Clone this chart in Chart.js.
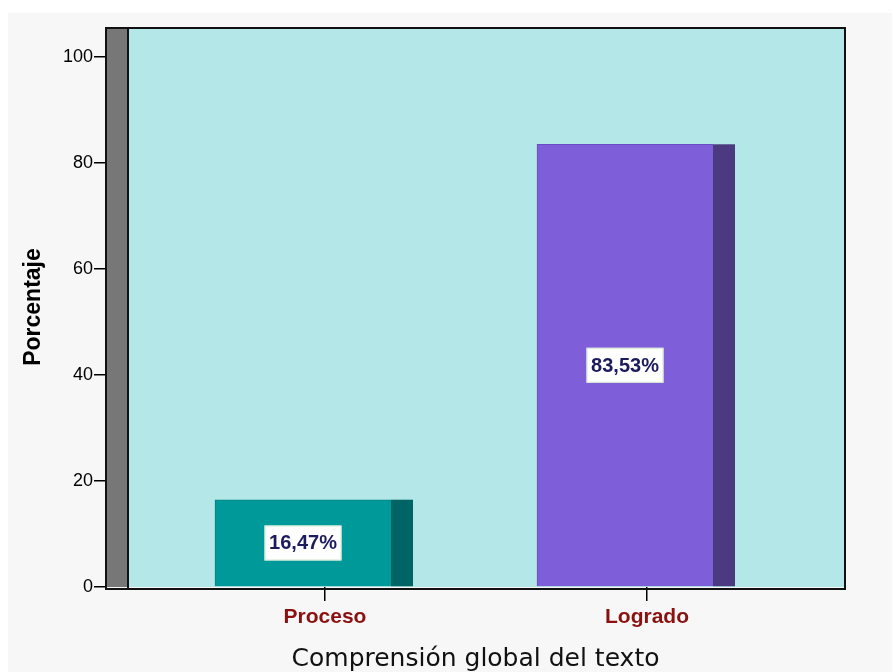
<!DOCTYPE html>
<html>
<head>
<meta charset="utf-8">
<script src="https://cdn.jsdelivr.net/npm/chart.js@4.4.0/dist/chart.umd.min.js"></script>
<style>
  html, body { margin: 0; padding: 0; background: #ffffff; }
  canvas { display: block; }
</style>
</head>
<body>
<canvas id="c" width="893" height="672"></canvas>
<script>
// ---- data ----
const categories = ['Proceso', 'Logrado'];
const percentages = [16.47, 83.53];
const yTickValues = [0, 20, 40, 60, 80, 100];
const xAxisTitle = 'Comprensión global del texto';
const yAxisTitle = 'Porcentaje';

// ---- styles ----
const frontColors = ['#009999', '#7f5fd9'];
const frontBorders = ['#008282', '#6a4cc4'];
const sideColors = ['#006464', '#4b3a80'];
const SIDE_DEPTH = 22;

const fmt = v => v.toFixed(2).replace('.', ',') + '%';

const backdropPlugin = {
  id: 'backdrop',
  beforeDraw(chart) {
    const { ctx, chartArea: a } = chart;
    ctx.save();
    ctx.fillStyle = '#ffffff';
    ctx.fillRect(0, 0, chart.width, chart.height);
    ctx.fillStyle = '#f7f7f7';
    ctx.fillRect(8, 13, chart.width - 9, chart.height - 13);
    ctx.fillStyle = '#b4e7e7';
    ctx.fillRect(a.left, a.top, a.right - a.left, a.bottom - a.top);
    ctx.fillStyle = '#777777';
    ctx.fillRect(a.left, a.top, SIDE_DEPTH, a.bottom - a.top);
    ctx.restore();
  },
  beforeDatasetsDraw(chart) {
    const { ctx } = chart;
    const meta = chart.getDatasetMeta(0);
    ctx.save();
    meta.data.forEach((el, i) => {
      const right = el.x + el.width / 2;
      ctx.fillStyle = sideColors[i];
      ctx.fillRect(right, el.y, SIDE_DEPTH, el.base - el.y);
    });
    ctx.restore();
  },
  afterDatasetsDraw(chart) {
    const { ctx } = chart;
    const meta = chart.getDatasetMeta(0);
    ctx.save();
    meta.data.forEach((el, i) => {
      const cx = el.x;
      const cy = (el.y + el.base) / 2;
      const w = 77, h = 35;
      ctx.fillStyle = '#ffffff';
      ctx.fillRect(cx - w / 2, cy - h / 2, w, h);
      ctx.strokeStyle = '#cfe8cf';
      ctx.lineWidth = 1;
      ctx.strokeRect(cx - w / 2 + 0.5, cy - h / 2 + 0.5, w - 1, h - 1);
      ctx.fillStyle = '#1b1b5e';
      ctx.font = 'bold 20px "Liberation Sans", Arial, sans-serif';
      ctx.textAlign = 'center';
      ctx.textBaseline = 'middle';
      ctx.fillText(fmt(percentages[i]), cx, cy + 1);
    });
    ctx.restore();
  },
  afterDraw(chart) {
    const { ctx, chartArea: a } = chart;
    ctx.save();
    ctx.strokeStyle = '#111111';
    ctx.lineWidth = 2;
    ctx.strokeRect(a.left, a.top + 1, a.right - a.left, a.bottom - a.top + 1);
    ctx.beginPath();
    ctx.moveTo(a.left + SIDE_DEPTH, a.top + 1);
    ctx.lineTo(a.left + SIDE_DEPTH, a.bottom + 1);
    ctx.stroke();
    ctx.restore();
  }
};

new Chart(document.getElementById('c'), {
  type: 'bar',
  data: {
    datasets: [{
      data: categories.map((c, i) => ({ x: i, y: percentages[i] })),
      backgroundColor: frontColors,
      borderColor: frontBorders,
      borderWidth: { top: 1, left: 1, right: 0, bottom: 0 },
      barThickness: 176,
      xAxisID: 'xb',
      yAxisID: 'y'
    }]
  },
  options: {
    responsive: false,
    animation: false,
    layout: { padding: { top: 27, right: 48, left: 0, bottom: 0 } },
    plugins: { legend: { display: false }, tooltip: { enabled: false } },
    scales: {
      xb: {
        type: 'linear',
        display: false,
        offset: false,
        grid: { offset: false },
        min: -0.6118,
        max: 1.6832
      },
      x: {
        type: 'linear',
        position: 'bottom',
        offset: false,
        min: -0.6801,
        max: 1.6149,
        afterBuildTicks: s => { s.ticks = categories.map((c, i) => ({ value: i })); },
        afterFit: s => { s.height = 85; },
        border: { display: false },
        grid: { offset: false, drawOnChartArea: false, drawTicks: true, tickLength: 14, color: '#000000', lineWidth: 1.5 },
        ticks: {
          autoSkip: false,
          maxRotation: 0,
          padding: 4,
          color: '#8b1010',
          font: { family: '"Liberation Sans", Arial, sans-serif', size: 21, weight: 'bold' },
          callback: v => categories[v] ?? ''
        },
        title: {
          display: true,
          text: xAxisTitle,
          color: '#111111',
          padding: { top: 0, bottom: 0 },
          font: { family: '"DejaVu Sans", sans-serif', size: 25, lineHeight: 1 }
        }
      },
      y: {
        type: 'linear',
        position: 'left',
        min: 0,
        max: 105.66,
        afterBuildTicks: s => { s.ticks = yTickValues.map(v => ({ value: v })); },
        afterFit: s => { s.width = 106; },
        border: { display: false },
        grid: { drawOnChartArea: false, drawTicks: true, tickLength: 12, color: '#000000', lineWidth: 1.5 },
        ticks: {
          padding: 1,
          color: '#000000',
          font: { family: '"Liberation Sans", Arial, sans-serif', size: 18 }
        },
        title: {
          display: true,
          text: yAxisTitle,
          color: '#000000',
          padding: { top: 22, bottom: 0 },
          font: { family: '"Liberation Sans", Arial, sans-serif', size: 23, weight: 'bold', lineHeight: 1 }
        }
      }
    }
  },
  plugins: [backdropPlugin]
});
</script>
</body>
</html>
